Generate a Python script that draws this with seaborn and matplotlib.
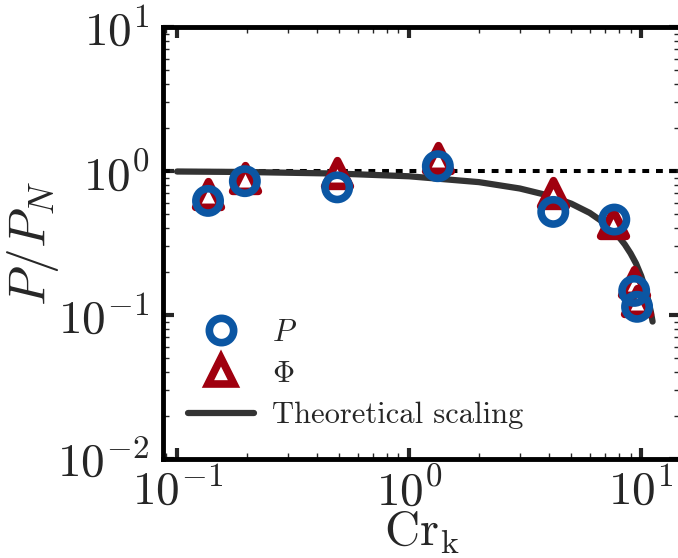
import numpy as np
import pandas as pd
import matplotlib
matplotlib.use("Agg")
import matplotlib.pyplot as plt
from matplotlib.lines import Line2D
import seaborn as sns

# ---- data ----
cr_P = [0.136, 0.196, 0.49, 1.33, 4.18, 7.66, 9.33, 9.6]
val_P = [0.62, 0.85, 0.77, 1.08, 0.52, 0.46, 0.147, 0.114]

cr_Phi = [0.136, 0.196, 0.49, 1.33, 4.18, 7.55, 9.33, 9.6]
val_Phi = [0.69, 0.89, 0.97, 1.23, 0.70, 0.435, 0.17, 0.125]

cr_theory = [0.1, 0.2, 0.5, 1.0, 2.0, 3.0, 4.0, 5.0, 6.0, 7.0, 7.5, 8.0, 8.5,
             9.0, 9.5, 10.0, 10.5, 11.0, 11.2]
val_theory = [0.992, 0.984, 0.959, 0.919, 0.837, 0.756, 0.675, 0.593, 0.512,
              0.431, 0.390, 0.350, 0.309, 0.268, 0.228, 0.187, 0.146, 0.106, 0.090]

x_ticks = [0.1, 1, 10]
y_ticks = [0.01, 0.1, 1, 10]

blue = "#0b56a3"
red = "#a0000f"
gray = "#333333"

sns.set_style("ticks")
plt.rcParams["font.family"] = "serif"
plt.rcParams["font.serif"] = ["cmr10", "DejaVu Serif"]
plt.rcParams["mathtext.fontset"] = "cm"
plt.rcParams["axes.formatter.use_mathtext"] = True
plt.rcParams["axes.unicode_minus"] = False

fig = plt.figure(figsize=(6.78, 5.58), dpi=100)
ax = fig.add_axes([163 / 678, 99 / 558, 517 / 678, 432 / 558])

df_P = pd.DataFrame({"x": cr_P, "y": val_P})
df_Phi = pd.DataFrame({"x": cr_Phi, "y": val_Phi})
df_th = pd.DataFrame({"x": cr_theory, "y": val_theory})

ax.set_xscale("log")
ax.set_yscale("log")
xlim = (0.087, 14.7)
ax.set_xlim(*xlim)
ax.set_ylim(0.01, 10)

# dotted reference line at P/P_N = 1
ax.plot(xlim, [1, 1], color="black", lw=2.9, dashes=(1.7, 1.7), zorder=1)

sns.lineplot(data=df_th, x="x", y="y", ax=ax, color=gray, lw=4.5, zorder=2,
             sort=False)

ms_c = 17.5
ms_t = 18.5
mew = 5.5
sns.scatterplot(data=df_Phi, x="x", y="y", ax=ax, marker="^", s=ms_t**2,
                facecolor="white", edgecolor=red, linewidth=mew, zorder=3)
sns.scatterplot(data=df_P, x="x", y="y", ax=ax, marker="o", s=ms_c**2,
                facecolor="none", edgecolor=blue, linewidth=mew, zorder=4)

ax.set_xlabel(r"$\mathrm{Cr_k}$", fontsize=35, labelpad=-3)
ax.set_ylabel(r"$P/P_N$", fontsize=37, labelpad=-3)

ax.set_xticks(x_ticks)
ax.set_yticks(y_ticks)
ax.tick_params(axis="both", which="major", direction="in", length=8, width=3,
               labelsize=34, top=True, right=True)
ax.tick_params(axis="x", which="major", pad=6)
ax.tick_params(axis="y", which="major", pad=10)
ax.tick_params(axis="both", which="minor", direction="in", length=4, width=1,
               top=True, right=True)
for sp in ax.spines.values():
    sp.set_linewidth(3.5)
    sp.set_color("black")

handles = [
    Line2D([], [], marker="o", ls="none", markersize=ms_c, markerfacecolor="none",
           markeredgecolor=blue, markeredgewidth=mew),
    Line2D([], [], marker="^", ls="none", markersize=ms_t, markerfacecolor="white",
           markeredgecolor=red, markeredgewidth=mew),
    Line2D([], [], color=gray, lw=4.5),
]
labels = [r"$P$", r"$\Phi$", "Theoretical scaling"]
leg = ax.legend(handles, labels, loc="lower left", bbox_to_anchor=(-0.005, 0.005),
                frameon=False, fontsize=22, handlelength=2.15,
                handletextpad=0.6, labelspacing=0.45, borderpad=0.4)

fig.savefig("out.png", dpi=100)
